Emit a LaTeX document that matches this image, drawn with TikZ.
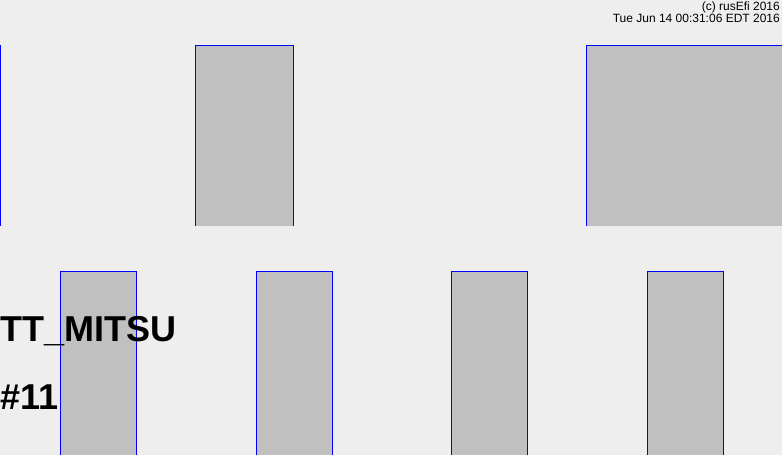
\documentclass[tikz,border=0pt]{standalone}
\usepackage{fontspec}
\setmainfont{Liberation Sans}
\usetikzlibrary{positioning}

\begin{document}
\begin{tikzpicture}[
    x=1pt, y=-1pt,
    pulse_fill/.style={
        fill=pulsegray
    },
    pulse_edge/.style={
        draw=blue,
        line width=1pt
    },
    stamp/.style={
        font=\fontsize{12}{13}\selectfont,
        inner sep=0pt,
        anchor=base east
    },
    big_label/.style={
        font=\fontsize{36}{40}\selectfont\bfseries,
        inner sep=0pt,
        anchor=base west
    }
]
\definecolor{pulsegray}{HTML}{C0C0C0}
\definecolor{backgray}{HTML}{EEEEEE}

% Background
\fill[backgray] (0,0) rectangle (782,455);
\useasboundingbox (0,0) rectangle (782,455);

% Upper row
\fill[pulse_fill] (-10,45) rectangle (0,226);
\draw[pulse_edge] (0.5,45) -- (0.5,226);
\fill[pulse_fill] (195,45) rectangle (293,226);
\draw[pulse_edge] (195.5,226) -- (195.5,45.5) -- (293.5,45.5) -- (293.5,226);
\fill[pulse_fill] (586,45) rectangle (790,226);
\draw[pulse_edge] (586.5,226) -- (586.5,45.5) -- (790,45.5);

% Lower row
\foreach \xa/\xb in {60/136, 256/332, 451/527, 647/723} {
    \fill[pulse_fill] (\xa,271) rectangle (\xb,455);
    \draw[pulse_edge] (\xa+0.5,456) -- (\xa+0.5,271.5) -- (\xb+0.5,271.5) -- (\xb+0.5,456);
}

% Labels
\node[stamp] (copy) at (780,10.5) {(c) rusEfi 2016};
\node[stamp] (date) at (780,22) {Tue Jun 14 00:31:06 EDT 2016};
\node[big_label] (name) at (0,341) {TT\_MITSU};
\node[big_label] (num) at (0,409) {\#11};

\end{tikzpicture}
\end{document}
